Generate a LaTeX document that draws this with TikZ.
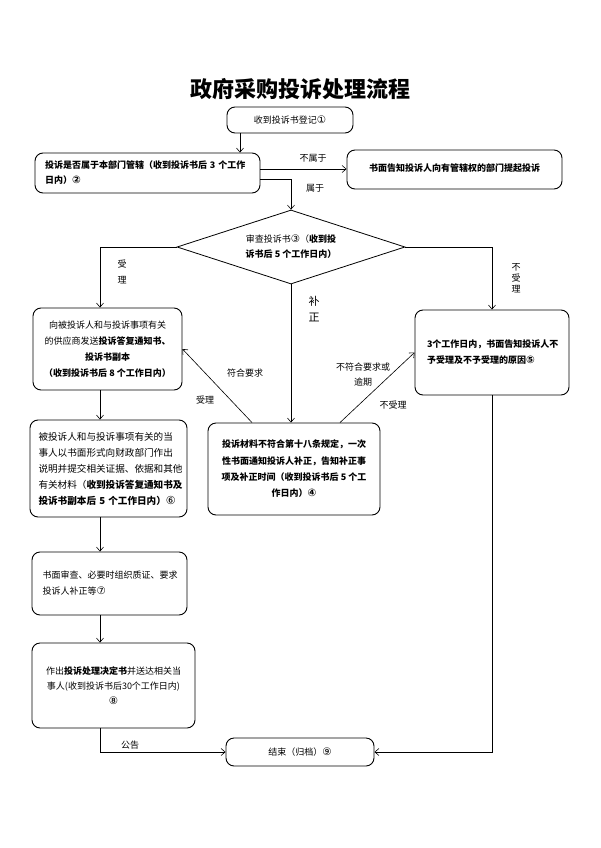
\documentclass[tikz,border=0pt]{standalone}
\usepackage{fontspec}
\setmainfont{Noto Sans CJK SC}
\newfontfamily\symfont{DejaVu Sans}[Scale=1.15]
\newcommand{\circnum}[1]{{\symfont #1}}
\usetikzlibrary{shapes.geometric}
\usetikzlibrary{arrows.meta}
\tikzset{
    mybox/.style = {rectangle, rounded corners=8pt, draw=black, line width=0.9pt, inner sep=0pt, font=\fontsize{9}{16}\selectfont},
    mydiamond/.style = {diamond, aspect=3, draw=black, line width=0.8pt, inner sep=0pt, align=center, minimum width=228pt, minimum height=74pt, font=\fontsize{9}{15}\selectfont},
    edgen/.style = {-{Straight Barb[length=4pt,width=7pt]}, line width=0.6pt},
    lab/.style = {inner sep=0pt, align=center, font=\fontsize{9}{13}\selectfont}
}
\begin{document}
\begin{tikzpicture}[x=1pt,y=-1pt]
\useasboundingbox (0,0) rectangle (600,848);
%
\node[font=\fontsize{22}{26}\selectfont\bfseries] at (300,89) (title) {政府采购投诉处理流程};
\node[mybox, minimum width=126pt, minimum height=26pt] at (290,120) (b1) {收到投诉书登记\circnum{①}};
\node[mybox, minimum width=225pt, minimum height=40pt, text width=205pt, align=left, font=\fontsize{9}{15}\selectfont\bfseries] at (147.5,173) (b2) {投诉是否属于本部门管辖（收到投诉书后 3 个工作\\日内）\circnum{②}};
\node[mybox, minimum width=215pt, minimum height=39pt, align=center, font=\fontsize{9}{15}\selectfont\bfseries] at (454.5,169.5) (b3) {\raisebox{4pt}{书面告知投诉人向有管辖权的部门提起投诉}};
\node[mydiamond] at (291,247) (d) {审查投诉书\circnum{③}（\textbf{收到投}\\\textbf{诉书后 5 个工作日内）}};
\node[mybox, minimum width=149pt, minimum height=82pt, align=center] at (107.5,349) (b4) {向被投诉人和与投诉事项有关\\的供应商发送\textbf{投诉答复通知书、}\\\textbf{投诉书副本}\\\textbf{（收到投诉书后 8 个工作日内）}};
\node[mybox, minimum width=154pt, minimum height=85pt, text width=130pt, align=left, font=\fontsize{9}{16}\selectfont\bfseries] at (492,352.5) (b5) {3个工作日内，书面告知投诉人不\\予受理及不予受理的原因\circnum{⑤}};
\node[mybox, minimum width=172pt, minimum height=92pt, align=center, font=\fontsize{9}{16.3}\selectfont\bfseries] at (294,469) (b6) {投诉材料不符合第十八条规定，一次\\性书面通知投诉人补正，告知补正事\\项及补正时间（收到投诉书后 5 个工\\作日内）\circnum{④}};
\node[mybox, minimum width=157pt, minimum height=97pt, text width=140pt, align=left, font=\fontsize{9.6}{16}\selectfont] at (108.5,468.5) (b7) {被投诉人和与投诉事项有关的当\\事人以书面形式向财政部门作出\\说明并提交相关证据、依据和其他\\有关材料（\textbf{收到投诉答复通知书及}\\\textbf{投诉书副本后 5 个工作日内）}\circnum{⑥}};
\node[mybox, minimum width=155pt, minimum height=63pt, text width=134pt, align=left] at (109.5,583.5) (b8) {书面审查、必要时组织质证、要求\\投诉人补正等\circnum{⑦}};
\node[mybox, minimum width=163pt, minimum height=85pt, align=center, font=\fontsize{9}{15}\selectfont] at (113.5,685.5) (b9) {作出\textbf{投诉处理决定书}并送达相关当\\事人(收到投诉书后30个工作日内)\\\circnum{⑧}};
\node[mybox, minimum width=148pt, minimum height=28pt] at (300,752) (end) {结束（归档）\circnum{⑨}};
%
\node[lab] at (313,158) (l1) {不属于};
\node[lab] at (315,188) (l2) {属于};
\node[lab] at (122,272) (l3) {受\\[3pt]理};
\node[lab, font=\fontsize{11}{16}\selectfont] at (314,309) (l4) {补\\正};
\node[lab, font=\fontsize{9}{11}\selectfont] at (516,278) (l5) {不\\受\\理};
\node[lab] at (245,373) (l6) {符合要求};
\node[lab] at (205,400) (l7) {受理};
\node[lab, font=\fontsize{9}{15}\selectfont] at (363,375) (l8) {不符合要求或\\逾期};
\node[lab] at (393,405) (l9) {不受理};
\node[lab] at (130,745) (l10) {公告};
%
\coordinate (col) at (100,0);
\draw[edgen] ([xshift=-50pt]b1.south) -- ([xshift=-50pt]b1.south |- b2.north);
\draw[edgen] ([yshift=4pt]b2.east) -- ([yshift=4pt]b2.east -| b3.west);
\draw[edgen] ([yshift=-6pt]b2.east) -| (d.north);
\draw[edgen] (d.west) -| (b4.north -| col);
\draw[edgen] (d.east) -| (b5.north);
\draw[edgen] (d.south) -- (d.south |- b6.north);
\draw[edgen] ([xshift=-42pt]b6.north) -- (b4.east);
\draw[edgen] ([xshift=46pt]b6.north) -- (b5.west);
\draw[edgen] (b4.south -| col) -- (b7.north -| col);
\draw[edgen] (b7.south -| col) -- (b8.north -| col);
\draw[edgen] (b8.south -| col) -- (b9.north -| col);
\draw[edgen] (b9.south -| col) |- (end.west);
\draw[edgen] (b5.south) |- (end.east);
\end{tikzpicture}
\end{document}
